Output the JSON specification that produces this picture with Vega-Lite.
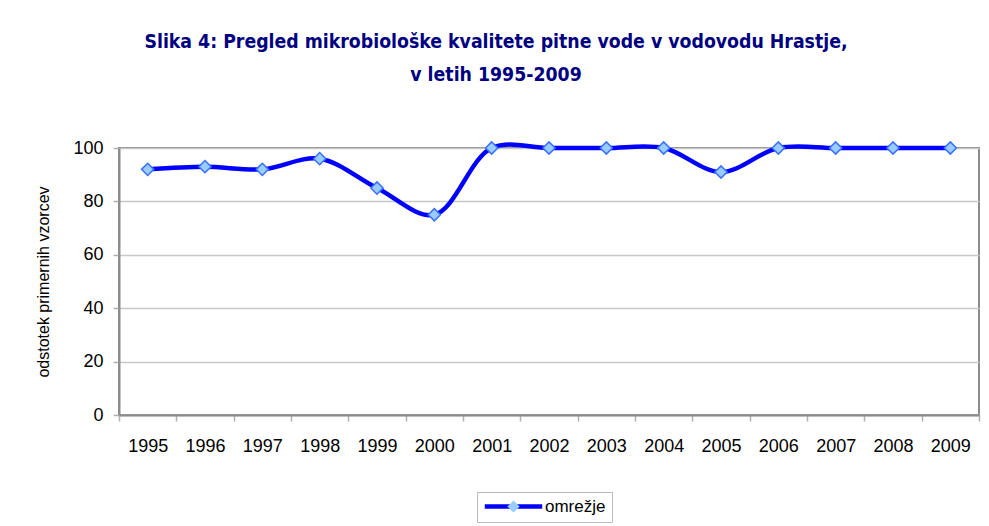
{
  "$schema": "https://vega.github.io/schema/vega-lite/v6.json",
  "width": 860,
  "height": 267,
  "autosize": "none",
  "padding": {"left": 119, "top": 148, "right": 10, "bottom": 111},
  "background": "white",
  "title": {
    "text": ["Slika 4: Pregled mikrobiološke kvalitete pitne vode v vodovodu Hrastje,", "v letih 1995-2009"],
    "font": "Liberation Sans Narrow, Arial Narrow, DejaVu Sans Condensed, Roboto, sans-serif",
    "fontSize": 19.3,
    "fontWeight": "bold",
    "color": "#000080",
    "anchor": "middle",
    "frame": "group",
    "dx": -53,
    "lineHeight": 33,
    "offset": 50
  },
  "data": {
    "values": [
      {"leto": "1995", "odstotek": 92, "serija": "omrežje", "oznaka": "omrežje"},
      {"leto": "1996", "odstotek": 93, "serija": "omrežje", "oznaka": "omrežje"},
      {"leto": "1997", "odstotek": 92, "serija": "omrežje", "oznaka": "omrežje"},
      {"leto": "1998", "odstotek": 96, "serija": "omrežje", "oznaka": "omrežje"},
      {"leto": "1999", "odstotek": 85, "serija": "omrežje", "oznaka": "omrežje"},
      {"leto": "2000", "odstotek": 75, "serija": "omrežje", "oznaka": "omrežje"},
      {"leto": "2001", "odstotek": 100, "serija": "omrežje", "oznaka": "omrežje"},
      {"leto": "2002", "odstotek": 100, "serija": "omrežje", "oznaka": "omrežje"},
      {"leto": "2003", "odstotek": 100, "serija": "omrežje", "oznaka": "omrežje"},
      {"leto": "2004", "odstotek": 100, "serija": "omrežje", "oznaka": "omrežje"},
      {"leto": "2005", "odstotek": 91, "serija": "omrežje", "oznaka": "omrežje"},
      {"leto": "2006", "odstotek": 100, "serija": "omrežje", "oznaka": "omrežje"},
      {"leto": "2007", "odstotek": 100, "serija": "omrežje", "oznaka": "omrežje"},
      {"leto": "2008", "odstotek": 100, "serija": "omrežje", "oznaka": "omrežje"},
      {"leto": "2009", "odstotek": 100, "serija": "omrežje", "oznaka": "omrežje"}
    ]
  },
  "encoding": {
    "x": {
      "field": "leto",
      "type": "ordinal",
      "scale": {"type": "band", "paddingInner": 0, "paddingOuter": 0},
      "axis": {
        "title": null,
        "labelAngle": 0,
        "tickBand": "extent",
        "labelFont": "Liberation Sans",
        "labelFontSize": 18,
        "labelColor": "#000000",
        "labelPadding": 16,
        "tickSize": 6,
        "tickColor": "#B0B0B0",
        "tickWidth": 1.5,
        "domainColor": "#8C8C8C",
        "domainWidth": 2,
        "grid": false
      }
    },
    "y": {
      "field": "odstotek",
      "type": "quantitative",
      "scale": {"domain": [0, 100], "nice": false},
      "axis": {
        "title": "odstotek primernih vzorcev",
        "titleFont": "Liberation Sans",
        "titleFontSize": 16,
        "titleFontWeight": "normal",
        "titleColor": "#000000",
        "titlePadding": 21,
        "values": [0, 20, 40, 60, 80, 100],
        "labelFont": "Liberation Sans",
        "labelFontSize": 18,
        "labelColor": "#000000",
        "labelPadding": 10,
        "tickSize": 6,
        "tickColor": "#B0B0B0",
        "tickWidth": 1.5,
        "domainColor": "#8C8C8C",
        "domainWidth": 2,
        "grid": true,
        "gridColor": "#C8C8C8",
        "gridWidth": 1.5
      }
    }
  },
  "layer": [
    {
      "mark": {"type": "line", "interpolate": "catmull-rom", "strokeWidth": 4.5},
      "encoding": {
        "color": {
          "field": "serija",
          "type": "nominal",
          "scale": {"range": ["#0000FF"]},
          "legend": {
            "title": null,
            "orient": "none",
            "legendX": 358,
            "legendY": 344,
            "symbolType": "M-5,0L5,0",
            "symbolSize": 132,
            "symbolStrokeWidth": 4.5,
            "symbolOffset": 22,
            "labelFont": "Liberation Sans",
            "labelFontSize": 17,
            "labelColor": "#000000",
            "labelOffset": 23,
            "strokeColor": "#BBBBBB",
            "padding": 6,
            "fillColor": "white"
          }
        }
      }
    },
    {
      "mark": {"type": "point", "filled": true, "size": 150, "fill": "#99CCFF", "stroke": "#3A6FFF", "strokeWidth": 1.5, "opacity": 1},
      "encoding": {
        "shape": {
          "field": "oznaka",
          "type": "nominal",
          "scale": {"range": ["diamond"]},
          "legend": {
            "title": null,
            "orient": "none",
            "legendX": 386,
            "legendY": 350,
            "symbolSize": 150,
            "symbolFillColor": "#99CCFF",
            "symbolStrokeColor": "#3A6FFF",
            "symbolStrokeWidth": 1.5,
            "labelFont": "Liberation Sans",
            "labelFontSize": 17,
            "labelExpr": "''",
            "padding": 0
          }
        }
      }
    }
  ],
  "config": {
    "view": {"stroke": "#8C8C8C", "strokeWidth": 2}
  }
}
